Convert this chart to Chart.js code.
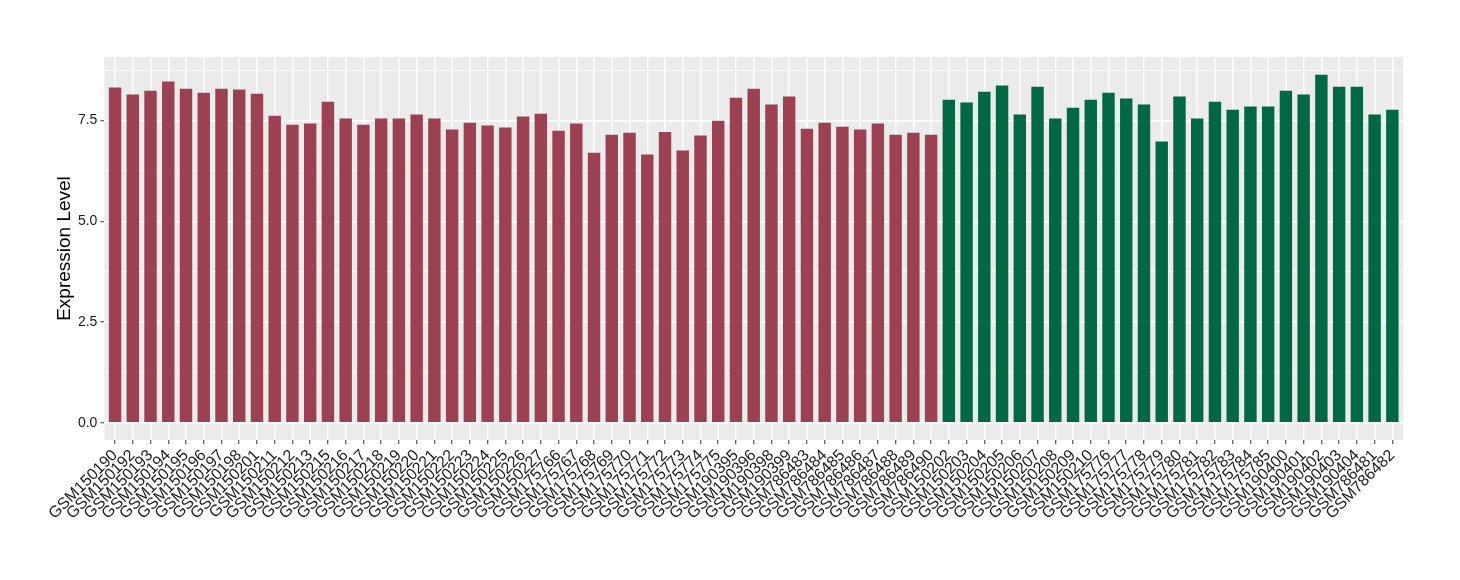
<!DOCTYPE html>
<html lang="en">
<head>
    <meta charset="UTF-8">
    <title>Expression Level by Sample</title>
    <script src="https://cdn.jsdelivr.net/npm/chart.js"></script>
    <style>
        html, body { margin: 0; padding: 0; background: #ffffff; }
        #wrap { position: relative; width: 1460px; height: 580px; }
    </style>
</head>
<body>
    <div id="wrap">
        <canvas id="exprChart"></canvas>
    </div>

    <script>
        // Group 1 (red)
        const redSamples = [
            'GSM150190', 'GSM150192', 'GSM150193', 'GSM150194', 'GSM150195', 'GSM150196',
            'GSM150197', 'GSM150198', 'GSM150201', 'GSM150211', 'GSM150212', 'GSM150213',
            'GSM150215', 'GSM150216', 'GSM150217', 'GSM150218', 'GSM150219', 'GSM150220',
            'GSM150221', 'GSM150222', 'GSM150223', 'GSM150224', 'GSM150225', 'GSM150226',
            'GSM150227', 'GSM175766', 'GSM175767', 'GSM175768', 'GSM175769', 'GSM175770',
            'GSM175771', 'GSM175772', 'GSM175773', 'GSM175774', 'GSM175775', 'GSM190395',
            'GSM190396', 'GSM190398', 'GSM190399', 'GSM786483', 'GSM786484', 'GSM786485',
            'GSM786486', 'GSM786487', 'GSM786488', 'GSM786489', 'GSM786490'
        ];
        const redValues = [
            8.32, 8.15, 8.24, 8.47, 8.29, 8.19,
            8.29, 8.27, 8.17, 7.62, 7.40, 7.43,
            7.97, 7.55, 7.40, 7.55, 7.55, 7.65,
            7.55, 7.28, 7.45, 7.38, 7.33, 7.60,
            7.67, 7.25, 7.43, 6.70, 7.15, 7.20,
            6.66, 7.22, 6.76, 7.13, 7.50, 8.07,
            8.29, 7.90, 8.10, 7.30, 7.45, 7.35,
            7.28, 7.43, 7.15, 7.20, 7.15
        ];

        // Group 2 (green)
        const greenSamples = [
            'GSM150202', 'GSM150203', 'GSM150204', 'GSM150205', 'GSM150206', 'GSM150207',
            'GSM150208', 'GSM150209', 'GSM150210', 'GSM175776', 'GSM175777', 'GSM175778',
            'GSM175779', 'GSM175780', 'GSM175781', 'GSM175782', 'GSM175783', 'GSM175784',
            'GSM175785', 'GSM190400', 'GSM190401', 'GSM190402', 'GSM190403', 'GSM190404',
            'GSM786481', 'GSM786482'
        ];
        const greenValues = [
            8.02, 7.95, 8.22, 8.37, 7.65, 8.34,
            7.55, 7.82, 8.02, 8.19, 8.05, 7.90,
            6.98, 8.10, 7.55, 7.97, 7.77, 7.85,
            7.85, 8.24, 8.15, 8.64, 8.34, 8.34,
            7.65, 7.77
        ];

        const yTicks = [0, 1.25, 2.5, 3.75, 5, 6.25, 7.5, 8.75];

        const RED = '#9b4151';
        const GREEN = '#006944';

        const samples = redSamples.concat(greenSamples);
        const values = redValues.concat(greenValues);
        const colors = samples.map((s, i) => i < redSamples.length ? RED : GREEN);

        // grey ggplot-style panel behind the plot
        const panelBg = {
            id: 'panelBg',
            beforeDraw(chart) {
                const { ctx, chartArea: a } = chart;
                ctx.save();
                ctx.fillStyle = '#ebebeb';
                ctx.fillRect(a.left, a.top, a.right - a.left, a.bottom - a.top);
                ctx.restore();
            }
        };

        const isMajor = v => Math.abs(v / 2.5 - Math.round(v / 2.5)) < 1e-6;

        new Chart(document.getElementById('exprChart'), {
            type: 'bar',
            data: {
                datasets: [{
                    data: values.map((v, i) => ({ x: i, y: v })),
                    backgroundColor: colors,
                    borderWidth: 0,
                    barPercentage: 0.7,
                    categoryPercentage: 1.0
                }]
            },
            options: {
                responsive: true,
                maintainAspectRatio: false,
                animation: false,
                layout: {
                    padding: { top: 57, right: 57, bottom: 0, left: 0 }
                },
                plugins: {
                    legend: { display: false },
                    tooltip: { enabled: false }
                },
                scales: {
                    x: {
                        type: 'linear',
                        offset: false,
                        min: -0.6,
                        max: samples.length - 1 + 0.6,
                        afterBuildTicks: s => { s.ticks = samples.map((_, i) => ({ value: i })); },
                        afterFit: s => { s.height = 140; },
                        border: { display: false },
                        grid: {
                            offset: false,
                            color: '#ffffff',
                            lineWidth: 1.5,
                            tickColor: '#333333',
                            tickLength: 4,
                            tickWidth: 1
                        },
                        ticks: {
                            autoSkip: false,
                            maxRotation: 45,
                            minRotation: 45,
                            padding: 2,
                            color: '#1a1a1a',
                            font: { family: 'Liberation Sans', size: 16 },
                            callback: v => samples[v]
                        }
                    },
                    y: {
                        min: -0.43,
                        max: 9.08,
                        afterBuildTicks: s => { s.ticks = yTicks.map(v => ({ value: v })); },
                        afterFit: s => { s.width = 104.4; },
                        border: { display: false },
                        grid: {
                            color: '#ffffff',
                            lineWidth: ctx => isMajor(ctx.tick.value) ? 1.5 : 0.75,
                            tickColor: ctx => isMajor(ctx.tick.value) ? '#333333' : 'rgba(0,0,0,0)',
                            tickLength: 4,
                            tickWidth: 1
                        },
                        ticks: {
                            padding: 3,
                            color: '#1a1a1a',
                            font: { family: 'Liberation Sans', size: 14 },
                            callback: v => isMajor(v) ? v.toFixed(1) : ''
                        },
                        title: {
                            display: true,
                            text: 'Expression Level',
                            color: '#000000',
                            font: { family: 'Liberation Sans', size: 19 },
                            padding: { top: 53.6, bottom: 0 }
                        }
                    }
                }
            },
            plugins: [panelBg]
        });
    </script>
</body>
</html>
